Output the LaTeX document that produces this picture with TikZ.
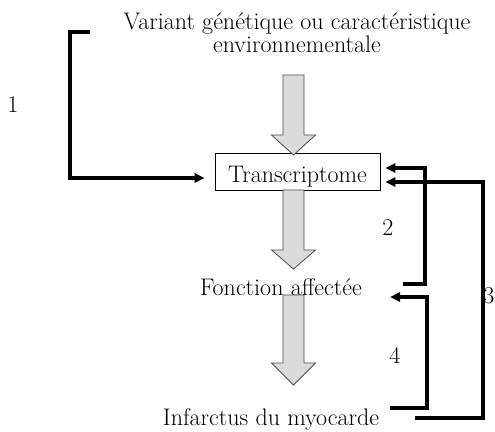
\documentclass[tikz,border=0pt]{standalone}
\usepackage{fontspec}
\usetikzlibrary{arrows.meta}
\begin{document}
\begin{tikzpicture}[x=1pt, y=-1pt,
    every node/.style={font=\fontsize{24}{23}\selectfont},
    flow/.style={fill=gray!28, draw=gray!60!black, line width=0.8pt},
    link/.style={line width=3.2pt, -{Triangle[length=10pt, width=9pt]}},
    box/.style={draw, line width=0.6pt, minimum width=165pt, minimum height=37pt, inner sep=0pt}]
    \pgfmathsetmacro{\xa}{293.5}
    \pgfmathsetmacro{\s}{10.5}
    \pgfmathsetmacro{\h}{22}
    \useasboundingbox (0,0) rectangle (495,431);

    % main chain
    \node[align=center] (variant) at (297,33) {Variant génétique ou caractéristique\\environnementale};
    \node[box] (transcr) at (297.5,171.5) {};
    \node[anchor=base] (transtxt) at (297.5,182) {Transcriptome};
    \node[anchor=base] (fonction) at (281,295) {Fonction affectée};
    \node[anchor=base] (infarctus) at (271,425) {Infarctus du myocarde};

    % big grey arrows
    \draw[flow] (\xa-\s,75) -- (\xa+\s,75) -- (\xa+\s,135) -- (\xa+\h,135)
        -- (\xa,155) -- (\xa-\h,135) -- (\xa-\s,135) -- cycle;
    \draw[flow] (\xa-\s,190) -- (\xa+\s,190) -- (\xa+\s,250) -- (\xa+\h,250)
        -- (\xa,269) -- (\xa-\h,250) -- (\xa-\s,250) -- cycle;
    \draw[flow] (\xa-\s,295) -- (\xa+\s,295) -- (\xa+\s,363) -- (\xa+\h,363)
        -- (\xa,385) -- (\xa-\h,363) -- (\xa-\s,363) -- cycle;

    % feedback links
    \coordinate (in1) at (90,32);
    \coordinate (out2) at (403,284);
    \coordinate (out3) at (415,418);
    \coordinate (out4) at (390,408);
    \coordinate (in4) at (390,297);

    \draw[link, shorten >=10pt] (in1) -- (70,32) |- ([yshift=-6.5pt]transcr.west);
    \draw[link, shorten >=5pt] (out2) -- (425,284) |- ([yshift=3.5pt]transcr.east);
    \draw[link, shorten >=5pt] (out3) -- (483,418) |- ([yshift=-10.5pt]transcr.east);
    \draw[link] (out4) -- (427,408) |- (in4);

    % numbers
    \node[anchor=base] (n1) at (13,112) {1};
    \node[anchor=base] (n2) at (388,235) {2};
    \node[anchor=base, inner sep=0pt] (n3) at (489,303) {3};
    \node[anchor=base] (n4) at (395,363) {4};
\end{tikzpicture}
\end{document}
